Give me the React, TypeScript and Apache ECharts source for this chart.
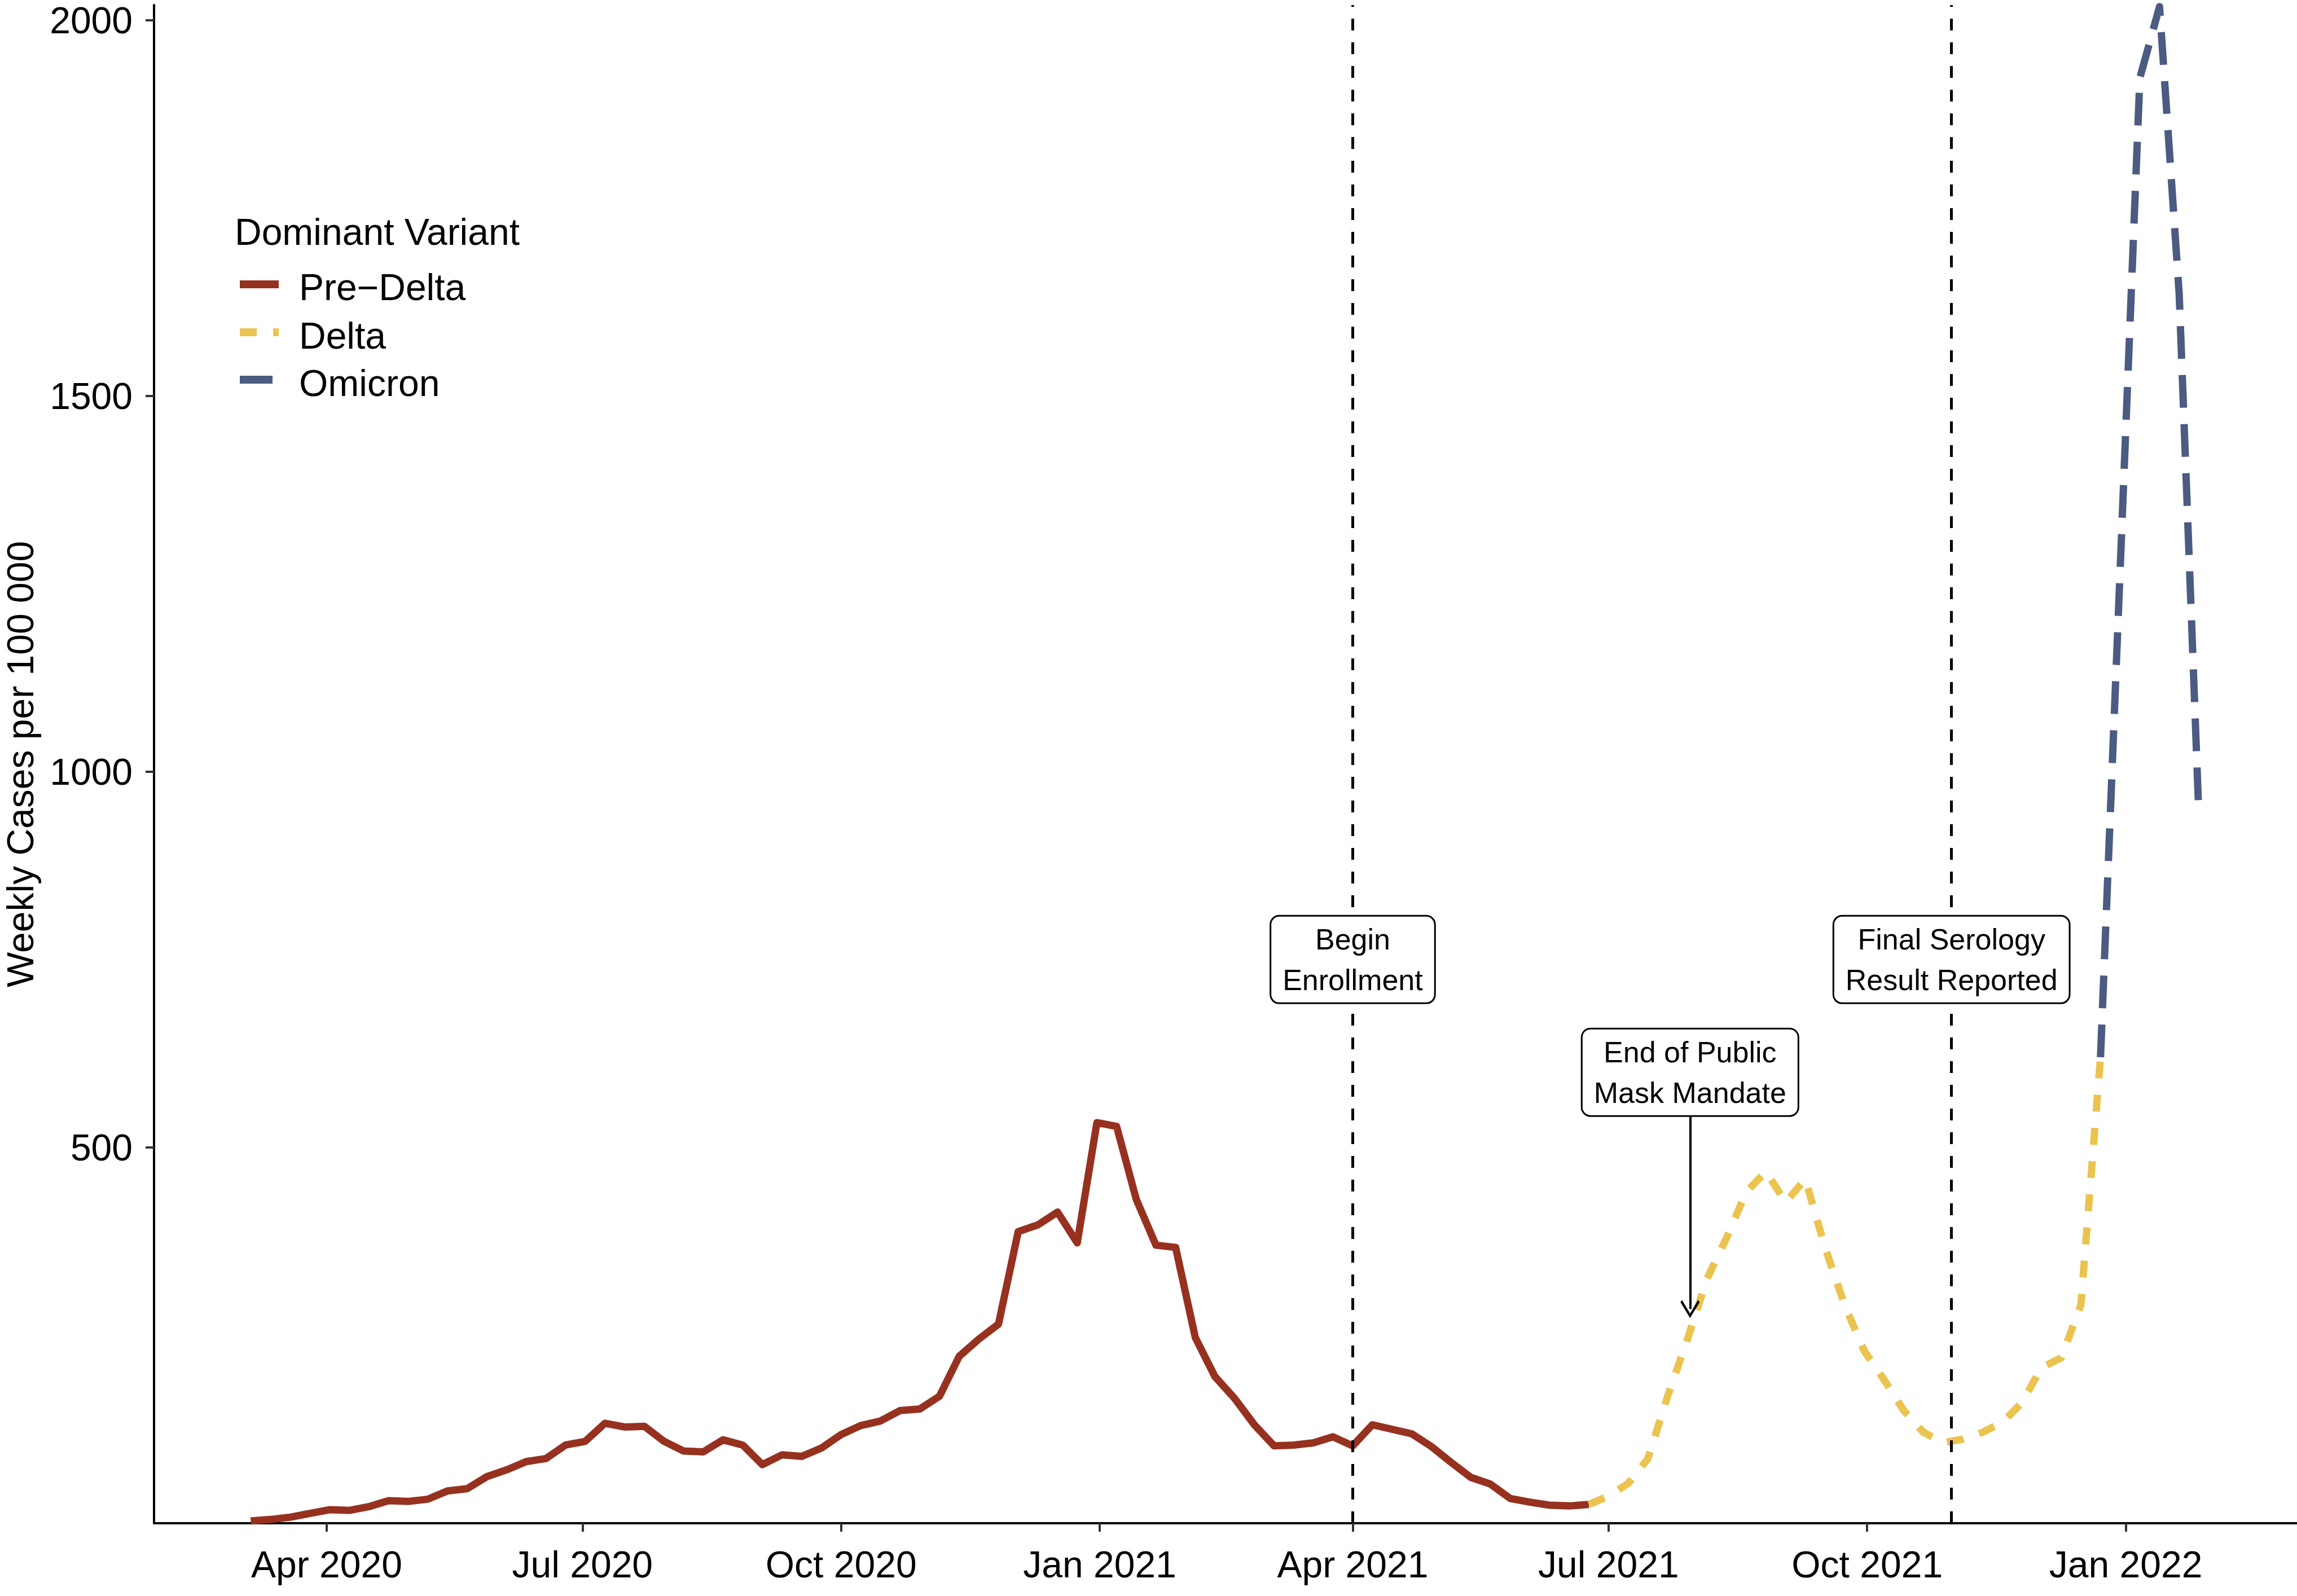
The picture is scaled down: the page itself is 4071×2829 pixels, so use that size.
import React, { useEffect, useRef } from 'react';
import * as echarts from 'echarts';

// ---- Data (weekly) ----
const weeks = [
  '2020-03-05', '2020-03-12', '2020-03-19', '2020-03-26', '2020-04-02', '2020-04-09', '2020-04-16', '2020-04-23', '2020-04-30',
  '2020-05-07', '2020-05-14', '2020-05-21', '2020-05-28', '2020-06-04', '2020-06-11', '2020-06-18', '2020-06-25',
  '2020-07-02', '2020-07-09', '2020-07-16', '2020-07-23', '2020-07-30', '2020-08-06', '2020-08-13', '2020-08-20', '2020-08-27',
  '2020-09-03', '2020-09-10', '2020-09-17', '2020-09-24', '2020-10-01', '2020-10-08', '2020-10-15', '2020-10-22', '2020-10-29',
  '2020-11-05', '2020-11-12', '2020-11-19', '2020-11-26', '2020-12-03', '2020-12-10', '2020-12-17', '2020-12-24', '2020-12-31',
  '2021-01-07', '2021-01-14', '2021-01-21', '2021-01-28', '2021-02-04', '2021-02-11', '2021-02-18', '2021-02-25',
  '2021-03-04', '2021-03-11', '2021-03-18', '2021-03-25', '2021-04-01', '2021-04-08', '2021-04-15', '2021-04-22', '2021-04-29',
  '2021-05-06', '2021-05-13', '2021-05-20', '2021-05-27', '2021-06-03', '2021-06-10', '2021-06-17', '2021-06-24',
  '2021-07-01', '2021-07-08', '2021-07-15', '2021-07-22', '2021-07-29', '2021-08-05', '2021-08-12', '2021-08-19', '2021-08-26',
  '2021-09-02', '2021-09-09', '2021-09-16', '2021-09-23', '2021-09-30', '2021-10-07', '2021-10-14', '2021-10-21', '2021-10-28',
  '2021-11-04', '2021-11-11', '2021-11-18', '2021-11-25', '2021-12-02', '2021-12-09', '2021-12-16', '2021-12-23', '2021-12-30',
  '2022-01-06', '2022-01-13', '2022-01-20', '2022-01-27',
];

const preDeltaStart = 0;
const preDeltaValues = [
  3, 5, 8, 13, 18, 17, 22, 30, 29, 32, 43, 46, 62, 71, 82, 86, 104, 109, 133, 128,
  129, 109, 96, 95, 111, 104, 78, 91, 89, 100, 118, 130, 136, 150, 152, 169, 222, 245, 265, 388,
  397, 414, 373, 533, 528, 431, 370, 367, 247, 195, 166, 131, 103, 104, 107, 115, 103, 131, 125, 119,
  102, 81, 61, 52, 33, 28, 24, 23, 25,
];

const deltaStart = 68;
const deltaValues = [
  25, 36, 53, 86, 169, 244, 325, 380, 441, 468, 427, 458, 367, 290, 229, 191, 150, 121, 107, 112,
  121, 134, 160, 207, 220, 290, 620,
];

const omicronStart = 94;
const omicronValues = [620, 1270, 1923, 2018, 1635, 941];

const seriesNames = ['Pre\u2212Delta', 'Delta', 'Omicron'];
const seriesColors = ['#97311F', '#EBC34F', '#4B5B82'];

const xTickDates = ['2020-04-01', '2020-07-01', '2020-10-01', '2021-01-01', '2021-04-01', '2021-07-01', '2021-10-01', '2022-01-01'];
const xTickLabels = ['Apr 2020', 'Jul 2020', 'Oct 2020', 'Jan 2021', 'Apr 2021', 'Jul 2021', 'Oct 2021', 'Jan 2022'];
const yTicks = [500, 1000, 1500, 2000];

const xMinDate = '2020-01-30T14:24:00Z';
const xMaxDate = '2022-03-02T21:36:00Z';
const yMax = 2020;

const eventDates = ['2021-04-01', '2021-10-31'];
const eventLabels = ['Begin\nEnrollment', 'Final Serology\nResult Reported'];
const eventLabelY = [750, 750];

const mandateDate = '2021-07-30';
const mandateLabel = 'End of Public\nMask Mandate';
const mandateLabelY = 600;
const arrowStartY = 542;
const arrowEndY = 285;

const FONT = 'Liberation Sans, Arial, Helvetica, sans-serif';

function toPairs(start: number, values: number[]) {
  return values.map((v, i) => [Date.parse(weeks[start + i]), v]);
}

export default function App() {
  const ref = useRef<HTMLDivElement>(null);

  useEffect(() => {
    const chart = echarts.init(ref.current!, null, { renderer: 'svg' });
    const tickTs = xTickDates.map((d) => Date.parse(d));
    const labelMap: Record<string, string> = {};
    tickTs.forEach((t, i) => (labelMap[String(t)] = xTickLabels[i]));

    const lineBase = {
      type: 'line',
      showSymbol: false,
      symbol: 'none',
      clip: true,
      silent: true,
      z: 2,
    };

    const option: any = {
      animation: false,
      backgroundColor: '#ffffff',
      grid: { left: 273, right: 0, top: 9, bottom: 129, containLabel: false, outerBoundsMode: 'none' },
      xAxis: {
        type: 'value',
        min: Date.parse(xMinDate),
        max: Date.parse(xMaxDate),
        scale: true,
        splitLine: { show: false },
        axisLine: { show: true, onZero: false, lineStyle: { color: '#000', width: 4 } },
        axisTick: { show: true, customValues: tickTs, length: 15, lineStyle: { color: '#333', width: 4 } },
        axisLabel: {
          show: true,
          customValues: tickTs,
          margin: 40,
          fontSize: 66,
          fontFamily: FONT,
          color: '#000',
          hideOverlap: false,
          formatter: (v: number) => labelMap[String(v)] ?? '',
        },
      },
      yAxis: {
        type: 'value',
        min: 0,
        max: yMax,
        interval: 500,
        name: 'Weekly Cases per 100 000',
        nameLocation: 'middle',
        nameRotate: 90,
        nameGap: 204,
        nameTextStyle: { fontSize: 66, fontFamily: FONT, color: '#000' },
        splitLine: { show: false },
        axisLine: { show: true, onZero: false, lineStyle: { color: '#000', width: 4 } },
        axisTick: { show: true, customValues: yTicks, length: 15, lineStyle: { color: '#333', width: 4 } },
        axisLabel: {
          customValues: yTicks,
          margin: 38,
          fontSize: 66,
          fontFamily: FONT,
          color: '#000',
          formatter: (v: number) => String(v),
        },
      },
      series: [
        {
          ...lineBase,
          name: seriesNames[0],
          data: toPairs(preDeltaStart, preDeltaValues),
          lineStyle: { color: seriesColors[0], width: 13, join: 'round', cap: 'butt' },
        },
        {
          ...lineBase,
          name: seriesNames[1],
          data: toPairs(deltaStart, deltaValues),
          lineStyle: { color: seriesColors[1], width: 13, type: [30, 29], join: 'round', cap: 'butt' },
        },
        {
          ...lineBase,
          name: seriesNames[2],
          data: toPairs(omicronStart, omicronValues),
          lineStyle: { color: seriesColors[2], width: 13, type: [58, 29], join: 'round', cap: 'butt' },
        },
        {
          type: 'line',
          name: 'vlines',
          data: [],
          silent: true,
          markLine: {
            silent: true,
            z: 5,
            symbol: ['none', 'none'],
            label: { show: false },
            lineStyle: { color: '#000', width: 5, type: [21, 21] },
            data: eventDates.map((d) => ({ xAxis: Date.parse(d) })),
          },
        },
        {
          type: 'line',
          name: 'arrow',
          data: [],
          silent: true,
          markLine: {
            silent: true,
            z: 6,
            symbol: ['none', 'path://M50,0 L100,88 L92,100 L50,25 L8,100 L0,88 Z'],
            symbolSize: [34, 32],
            label: { show: false },
            lineStyle: { color: '#000', width: 4, type: 'solid' },
            data: [
              [
                { coord: [Date.parse(mandateDate), arrowStartY] },
                { coord: [Date.parse(mandateDate), arrowEndY] },
              ],
            ],
          },
        },
        {
          type: 'line',
          name: 'labels',
          data: [],
          silent: true,
          markPoint: {
            silent: true,
            z: 10,
            symbol: 'circle',
            symbolSize: 0,
            itemStyle: { color: 'rgba(0,0,0,0)' },
            label: {
              show: true,
              position: 'inside',
              fontSize: 52,
              lineHeight: 72,
              fontFamily: FONT,
              color: '#000',
              align: 'center',
              verticalAlign: 'middle',
              backgroundColor: '#ffffff',
              borderColor: '#000',
              borderWidth: 3,
              borderRadius: 14,
              padding: [4, 20],
            },
            data: [
              ...eventDates.map((d, i) => ({
                coord: [Date.parse(d), eventLabelY[i]],
                value: eventLabels[i],
                label: { formatter: eventLabels[i] },
              })),
              {
                coord: [Date.parse(mandateDate), mandateLabelY],
                value: mandateLabel,
                label: { formatter: mandateLabel },
              },
            ],
          },
        },
      ],
      graphic: [
        {
          type: 'text',
          x: 416,
          y: 411,
          silent: true,
          style: { text: 'Dominant Variant', fill: '#000', fontSize: 66, fontFamily: FONT, align: 'left', verticalAlign: 'middle' },
        },
        {
          type: 'line',
          silent: true,
          shape: { x1: 425, y1: 504, x2: 494, y2: 504 },
          style: { stroke: seriesColors[0], lineWidth: 14 },
        },
        {
          type: 'line',
          silent: true,
          shape: { x1: 425, y1: 589, x2: 494, y2: 589 },
          style: { stroke: seriesColors[1], lineWidth: 14, lineDash: [30, 29] },
        },
        {
          type: 'line',
          silent: true,
          shape: { x1: 425, y1: 673, x2: 494, y2: 673 },
          style: { stroke: seriesColors[2], lineWidth: 14, lineDash: [58, 29] },
        },
        ...seriesNames.map((n, i) => ({
          type: 'text',
          x: 530,
          y: [509, 595, 679][i],
          silent: true,
          style: { text: n, fill: '#000', fontSize: 66, fontFamily: FONT, align: 'left', verticalAlign: 'middle' },
        })),
      ],
    };

    chart.setOption(option);
    return () => chart.dispose();
  }, []);

  return (
    <div
      ref={ref}
      style={{ position: 'fixed', left: 0, top: 0, width: 4071, height: 2829, background: '#ffffff' }}
    />
  );
}
